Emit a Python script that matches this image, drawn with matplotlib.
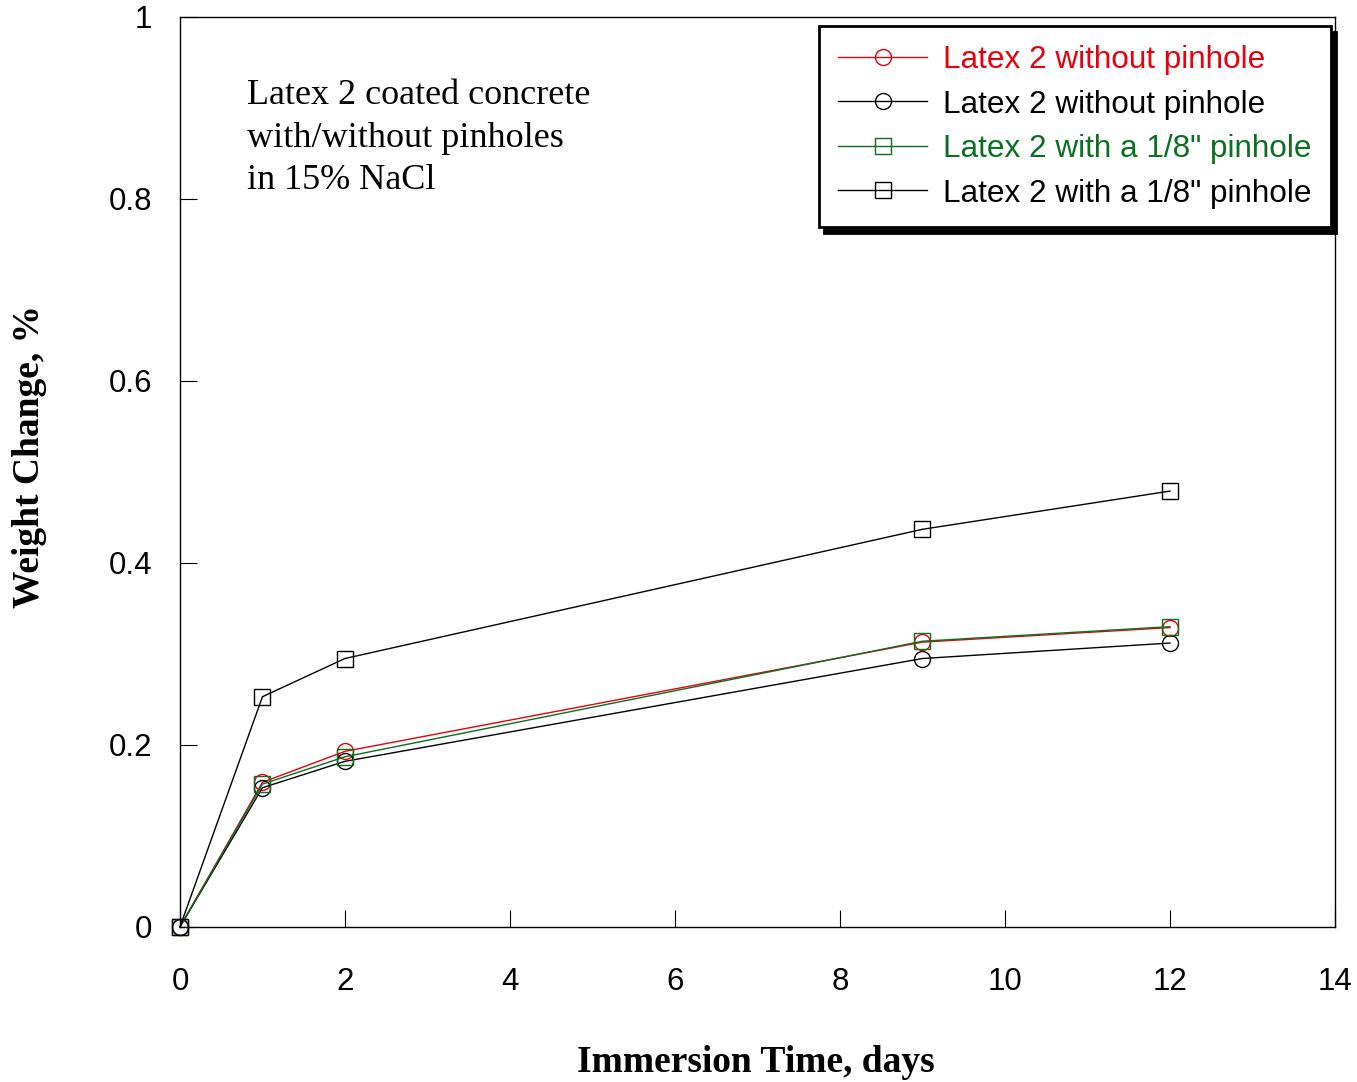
import matplotlib
matplotlib.use("Agg")
import matplotlib.pyplot as plt

# Immersion time (days) and weight change (%) for each specimen
days = [0, 1, 2, 9, 12]
no_pinhole_a = [0.0, 0.159, 0.193, 0.313, 0.329]
no_pinhole_b = [0.0, 0.153, 0.182, 0.295, 0.312]
pinhole_a = [0.0, 0.157, 0.187, 0.314, 0.330]
pinhole_b = [0.0, 0.253, 0.295, 0.437, 0.479]

labels = [
    "Latex 2 without pinhole",
    "Latex 2 without pinhole",
    'Latex 2 with a 1/8" pinhole',
    'Latex 2 with a 1/8" pinhole',
]
x_ticks = [0, 2, 4, 6, 8, 10, 12, 14]
y_ticks = [0, 0.2, 0.4, 0.6, 0.8, 1]
y_tick_labels = ["0", "0.2", "0.4", "0.6", "0.8", "1"]

RED = "#e8000b"
GREEN = "#0a6e23"

sans = ["Liberation Sans", "DejaVu Sans"]
serif = ["Liberation Serif", "DejaVu Serif"]

fig = plt.figure(figsize=(13.57, 10.82), dpi=100)
ax = fig.add_axes([0.1326, 0.1433, 0.8512, 0.8410])

series = [
    (no_pinhole_a, RED, "o"),
    (no_pinhole_b, "black", "o"),
    (pinhole_a, GREEN, "s"),
    (pinhole_b, "black", "s"),
]
handles = []
for (vals, col, mk), lab in zip(series, labels):
    h, = ax.plot(days, vals, color=col, lw=1.0, marker=mk,
                 ms=11.5 if mk == "o" else 11,
                 mfc="none", mec=col, mew=1.0, label=lab, clip_on=False)
    handles.append(h)

ax.set_xlim(0, 14)
ax.set_ylim(0, 1)
ax.set_xticks(x_ticks)
ax.set_xticklabels([str(t) for t in x_ticks], fontfamily=sans, fontsize=22.5)
ax.set_yticks(y_ticks)
ax.set_yticklabels(y_tick_labels, fontfamily=sans, fontsize=22.5)
ax.tick_params(axis="x", direction="in", length=12, width=0.8, pad=29)
ax.tick_params(axis="y", direction="in", length=12, width=0.8, pad=20)
for sp in ax.spines.values():
    sp.set_linewidth(1.0)

fig.text(756 / 1357, 1 - 1062 / 1082, "Immersion Time, days", fontfamily=serif,
         fontweight="bold", fontsize=27, ha="center", va="center")
fig.text(30 / 1357, 1 - 456 / 1082, "Weight Change, %", fontfamily=serif,
         fontweight="bold", fontsize=27, ha="center", va="center", rotation=90)

ax.text(0.058, 0.932, "Latex 2 coated concrete\nwith/without pinholes\nin 15% NaCl",
        transform=ax.transAxes, ha="left", va="top", fontfamily=serif,
        fontsize=26, linespacing=1.39)

leg = ax.legend(handles=handles, loc="upper left", bbox_to_anchor=(0.553, 0.990),
                borderaxespad=0, fancybox=False, framealpha=1, edgecolor="black",
                prop={"family": sans, "size": 22.7}, handlelength=2.85,
                handletextpad=0.5, labelspacing=0.46, borderpad=0.6,
                shadow={"color": "black", "alpha": 1, "ox": 4, "oy": -4})
leg.get_frame().set_linewidth(2.0)
for txt, (vals, col, mk) in zip(leg.get_texts(), series):
    txt.set_color(col)

fig.savefig("out.png", dpi=100)
